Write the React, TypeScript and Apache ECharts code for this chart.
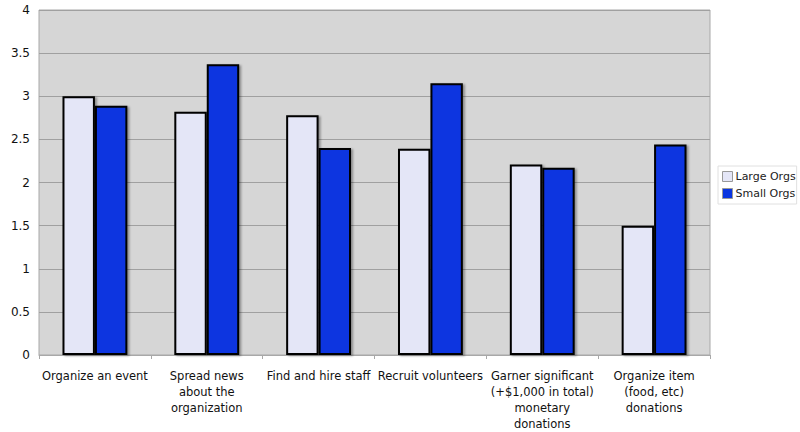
import React, { useEffect, useRef } from "react";
import * as echarts from "echarts";

const categories = [
  "Organize an event",
  "Spread news\nabout the\norganization",
  "Find and hire staff",
  "Recruit volunteers",
  "Garner significant\n(+$1,000 in total)\nmonetary\ndonations",
  "Organize item\n(food, etc)\ndonations",
];
const largeOrgs = [3.0, 2.82, 2.78, 2.39, 2.21, 1.5];
const smallOrgs = [2.89, 3.37, 2.4, 3.15, 2.17, 2.44];
const seriesNames = ["Large Orgs", "Small Orgs"];

const FONT = "DejaVu Sans";

export default function App() {
  const ref = useRef<HTMLDivElement>(null);
  useEffect(() => {
    if (!ref.current) return;
    const chart = echarts.init(ref.current, undefined, { renderer: "svg" });
    const barStyle = (color: string) => ({
      color,
      borderColor: "#000",
      borderWidth: 2,
      shadowBlur: 2,
      shadowOffsetX: 2,
      shadowOffsetY: 1,
      shadowColor: "rgba(0,0,0,0.35)",
    });
    chart.setOption({
      animation: false,
      backgroundColor: "#fff",
      textStyle: { fontFamily: FONT },
      grid: {
        left: 39,
        right: 90,
        top: 10,
        bottom: 74,
        show: true,
        backgroundColor: "#d6d6d6",
        borderColor: "#a8a8a8",
        borderWidth: 1,
      },
      legend: {
        orient: "vertical",
        left: 718,
        top: 166,
        itemWidth: 10,
        itemHeight: 10,
        itemGap: 6,
        padding: [5, 1, 5, 4],
        backgroundColor: "#fff",
        borderColor: "#e0e0e0",
        borderWidth: 1,
        textStyle: { fontFamily: FONT, fontSize: 11, color: "#222", padding: [0, 0, 0, -2] },
        itemStyle: { borderColor: "#999", borderWidth: 1 },
        data: seriesNames.map((n) => ({ name: n, icon: "rect" })),
      },
      xAxis: {
        type: "category",
        data: categories,
        axisLine: { show: true, lineStyle: { color: "#a8a8a8" } },
        axisTick: { show: true, length: 4, lineStyle: { color: "#a8a8a8" } },
        axisLabel: {
          interval: 0,
          color: "#111",
          fontFamily: FONT,
          fontSize: 11.5,
          lineHeight: 16,
          margin: 13,
          align: "center",
        },
      },
      yAxis: {
        type: "value",
        min: 0,
        max: 4,
        interval: 0.5,
        axisLine: { show: false },
        axisTick: { show: false },
        splitLine: { lineStyle: { color: "#a0a0a0", width: 1 } },
        axisLabel: { color: "#111", fontFamily: FONT, fontSize: 12, margin: 9 },
      },
      series: [
        {
          name: seriesNames[0],
          type: "bar",
          data: largeOrgs,
          barGap: "0%",
          barCategoryGap: "42%",
          itemStyle: barStyle("#e4e6f7"),
        },
        {
          name: seriesNames[1],
          type: "bar",
          data: smallOrgs,
          barGap: "0%",
          barCategoryGap: "42%",
          itemStyle: barStyle("#0a35e0"),
        },
      ],
    });
    return () => chart.dispose();
  }, []);
  return <div ref={ref} style={{ width: 800, height: 432, position: "fixed", left: 0, top: 0 }} />;
}
